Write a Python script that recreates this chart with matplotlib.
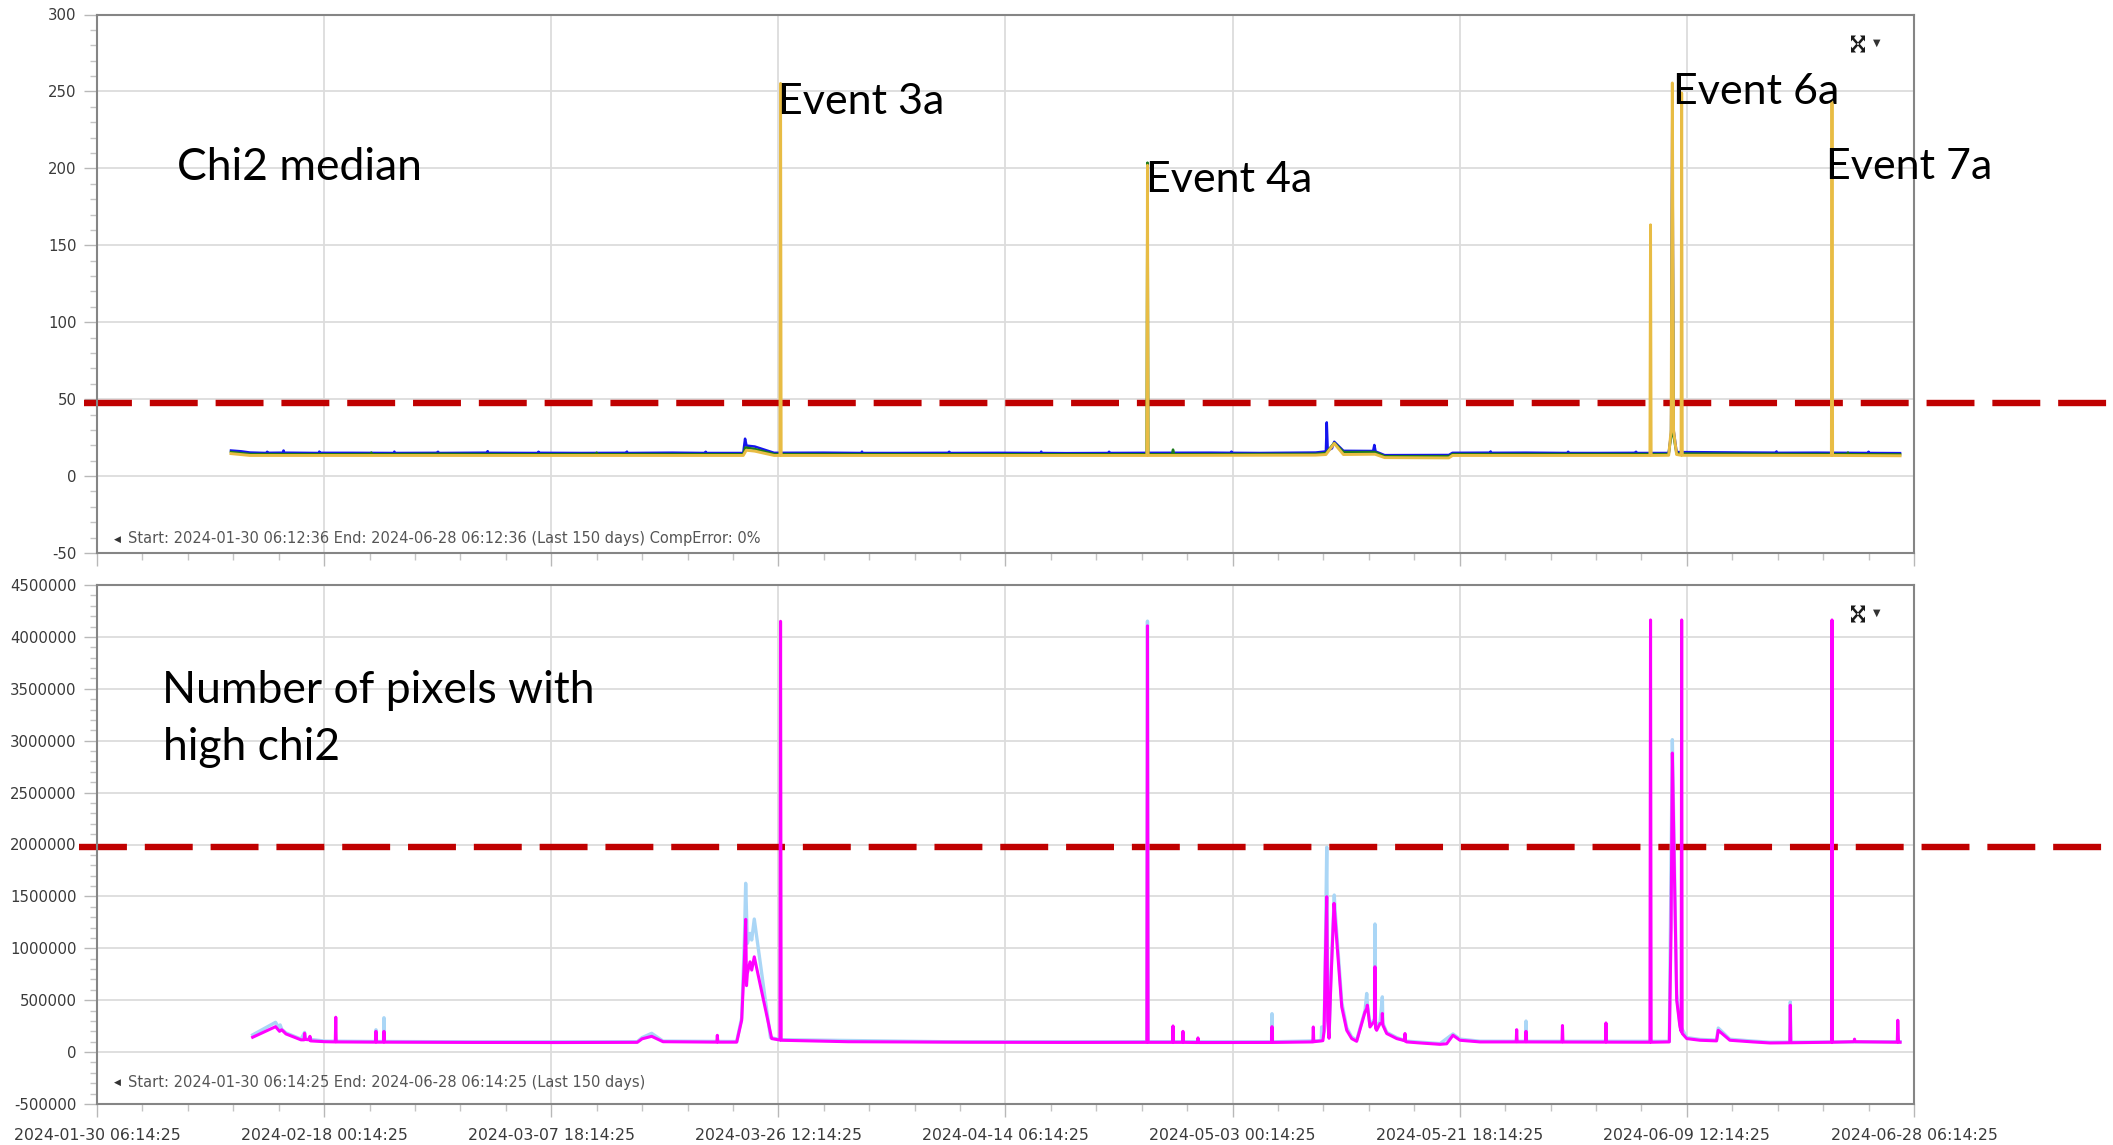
#!/usr/bin/env python3
"""
Chi2 monitoring overview: median chi2 and number of high-chi2 pixels
over the last 150 days, with the alarm thresholds and labelled events.
"""

import numpy as np
import pandas as pd
import matplotlib
matplotlib.use("Agg")
import matplotlib.pyplot as plt
import matplotlib.dates as mdates
from matplotlib.ticker import FixedLocator, StrMethodFormatter

W, H = 2113, 1145
START = pd.Timestamp("2024-01-30 06:14:25")
SPAN_DAYS = 150

x_tick_labels = [
    "2024-01-30 06:14:25", "2024-02-18 00:14:25", "2024-03-07 18:14:25",
    "2024-03-26 12:14:25", "2024-04-14 06:14:25", "2024-05-03 00:14:25",
    "2024-05-21 18:14:25", "2024-06-09 12:14:25", "2024-06-28 06:14:25",
]

# (days since START, value)
chi2_blue = [
    (11.06, 16.6), (11.9, 16.1), (12.63, 15.3), (14.0, 15.0), (14.05, 15.8),
    (14.1, 15.1), (15.35, 15.2), (15.4, 16.6), (15.45, 15.2), (18.3, 15.0),
    (18.35, 15.9), (18.4, 15.1), (21.0, 15.1), (24.5, 15.0), (24.55, 15.9),
    (24.6, 15.0), (28.1, 15.1), (28.15, 15.8), (28.2, 15.0), (32.2, 15.2),
    (32.25, 16.2), (32.3, 15.1), (36.4, 15.0), (36.45, 15.8), (36.5, 15.1),
    (40.0, 15.0), (43.7, 15.1), (43.75, 15.9), (43.8, 15.0), (47.5, 15.2),
    (50.2, 15.0), (50.25, 15.8), (50.3, 15.0), (53.35, 15.0), (53.5, 24.3),
    (53.62, 19.8), (54.3, 19.2), (55.9, 15.1), (60.0, 15.2), (63.1, 15.0),
    (63.15, 15.9), (63.2, 15.0), (66.0, 15.0), (70.3, 15.1), (70.35, 15.8),
    (70.4, 15.0), (74.5, 15.1), (77.9, 15.0), (77.95, 15.9), (78.0, 15.0),
    (80.0, 14.9), (83.5, 15.0), (83.55, 15.8), (83.6, 15.0), (86.7, 15.1),
    (92.0, 15.2), (93.6, 15.1), (93.65, 15.9), (93.7, 15.1), (96.0, 15.0),
    (100.6, 15.3), (101.45, 16.0), (101.52, 34.9), (101.6, 16.6), (101.95, 18.0),
    (102.14, 22.3), (102.9, 16.4), (105.35, 16.3), (105.45, 20.2), (105.55, 16.0),
    (106.3, 13.6), (111.6, 13.7), (111.9, 15.1), (115.0, 15.2), (115.05, 16.0),
    (115.1, 15.1), (118.0, 15.2), (121.4, 15.0), (121.45, 15.8), (121.5, 15.0),
    (124.0, 15.0), (127.0, 15.1), (127.05, 15.8), (127.1, 15.0), (129.75, 15.0),
    (129.95, 28.0), (130.05, 250.0), (130.15, 30.0), (130.4, 15.6), (136.0, 15.3),
    (138.6, 15.2), (138.65, 16.0), (138.7, 15.1), (142.0, 15.2), (146.2, 15.0),
    (146.25, 15.8), (146.3, 15.0), (148.85, 14.9),
]
chi2_green = [
    (11.06, 15.6), (12.63, 14.3), (20.0, 14.2), (22.6, 14.3), (22.65, 15.3),
    (22.7, 14.2), (28.0, 14.4), (36.0, 14.2), (41.2, 14.3), (41.25, 15.2),
    (41.3, 14.2), (45.0, 14.3), (53.35, 14.2), (53.52, 18.6), (54.3, 17.6),
    (55.9, 14.3), (70.0, 14.2), (86.65, 14.2), (86.72, 203.7), (86.79, 14.2),
    (88.75, 14.2), (88.83, 17.2), (88.91, 14.2), (100.6, 14.4), (101.45, 15.0),
    (102.14, 21.6), (102.9, 15.6), (105.5, 15.6), (106.3, 12.9), (111.6, 12.9),
    (111.9, 14.3), (120.0, 14.3), (129.75, 14.3), (129.95, 26.0), (130.05, 210.0),
    (130.15, 26.0), (130.4, 14.6), (140.0, 14.3), (144.5, 14.3), (144.55, 15.3),
    (144.6, 14.2), (148.85, 14.1),
]
chi2_gold = [
    (11.06, 14.6), (12.63, 13.4), (30.0, 13.4), (53.35, 13.4), (53.6, 16.8),
    (54.3, 16.2), (55.9, 13.4), (56.38, 13.4), (56.43, 255.2), (56.48, 13.4),
    (86.67, 13.4), (86.72, 202.0), (86.77, 13.4), (100.6, 13.6), (101.45, 14.0),
    (102.14, 21.2), (102.9, 14.0), (105.5, 14.2), (106.3, 12.0), (111.6, 11.8),
    (111.9, 13.4), (128.2, 13.4), (128.25, 163.3), (128.3, 13.4), (129.75, 13.5),
    (129.95, 30.0), (130.05, 255.5), (130.15, 30.0), (130.4, 14.0), (130.77, 13.5),
    (130.82, 249.0), (130.87, 13.5), (143.18, 13.4), (143.23, 243.0), (143.28, 13.4),
    (148.85, 13.2),
]

pix_lightblue = [
    (12.85, 166000), (14.74, 287000), (15.07, 225000), (15.12, 262000), (15.25, 220000),
    (15.6, 185000), (16.84, 126000), (17.14, 190000), (17.2, 128000), (18.82, 106000),
    (22.99, 102000), (23.03, 215000), (23.07, 102000), (23.65, 102000), (23.69, 331000),
    (23.73, 102000), (31.0, 99000), (44.6, 100000), (45.0, 140000), (45.79, 181000),
    (46.73, 106000), (52.81, 102000), (53.22, 330000), (53.45, 1100000), (53.55, 1626000),
    (53.69, 1047000), (53.91, 1144000), (54.05, 1080000), (54.26, 1282000), (55.6, 140000),
    (56.43, 120000), (70.0, 100000), (86.67, 100000), (86.72, 4152000), (86.77, 100000),
    (96.96, 99000), (97.0, 370000), (97.04, 99000), (101.06, 110000), (101.1, 242000),
    (101.14, 115000), (101.3, 220000), (101.4, 900000), (101.52, 1974000), (101.6, 400000),
    (101.71, 150000), (101.85, 700000), (102.14, 1513000), (102.2, 1380000), (102.47, 950000),
    (102.76, 480000), (103.17, 235000), (103.58, 145000), (103.99, 115000), (104.41, 290000),
    (104.68, 400000), (104.82, 565000), (104.87, 470000), (105.09, 260000), (105.46, 320000),
    (105.5, 1234000), (105.55, 250000), (105.92, 290000), (106.11, 532000), (106.15, 280000),
    (106.47, 190000), (107.3, 140000), (108.12, 105000), (110.87, 82000), (111.94, 175000),
    (112.52, 125000), (114.17, 105000), (117.93, 104000), (117.97, 299000), (118.01, 104000),
    (129.8, 104000), (130.05, 3010000), (130.21, 1900000), (130.41, 560000), (130.68, 260000),
    (131.24, 140000), (132.33, 122000), (133.7, 116000), (133.84, 232000), (134.8, 124000),
    (136.71, 106000), (138.11, 95000), (139.75, 96000), (139.79, 484000), (139.83, 96000),
    (148.85, 100000),
]
pix_magenta = [
    (12.85, 143000), (14.74, 245000), (15.07, 200000), (15.25, 215000), (15.6, 175000),
    (16.84, 118000), (17.1, 118000), (17.14, 181000), (17.2, 122000), (17.54, 118000),
    (17.58, 152000), (17.63, 108000), (18.82, 100000), (19.67, 98000), (19.71, 336000),
    (19.75, 98000), (22.99, 96000), (23.03, 200000), (23.07, 96000), (23.65, 96000),
    (23.69, 200000), (23.73, 96000), (31.0, 93000), (38.0, 92000), (44.6, 94000),
    (45.0, 128000), (45.79, 152000), (46.73, 100000), (51.17, 96000), (51.21, 162000),
    (51.25, 96000), (52.81, 96000), (53.22, 307000), (53.45, 900000), (53.55, 1279000),
    (53.62, 640000), (53.69, 758000), (53.91, 870000), (54.05, 790000), (54.26, 918000),
    (55.7, 130000), (56.38, 116000), (56.43, 4150000), (56.48, 114000), (62.0, 100000),
    (72.0, 95000), (80.0, 93000), (86.67, 94000), (86.72, 4106000), (86.77, 94000),
    (88.79, 94000), (88.83, 252000), (88.87, 94000), (89.61, 94000), (89.65, 200000),
    (89.69, 94000), (90.85, 92000), (90.89, 137000), (90.93, 92000), (96.96, 93000),
    (97.0, 245000), (97.04, 93000), (99.5, 97000), (100.37, 98000), (100.41, 242000),
    (100.45, 100000), (101.2, 110000), (101.3, 200000), (101.4, 860000), (101.52, 1497000),
    (101.6, 300000), (101.71, 133000), (101.85, 628000), (102.12, 1433000), (102.2, 1300000),
    (102.47, 886000), (102.76, 435000), (103.17, 210000), (103.58, 130000), (103.99, 104000),
    (104.41, 275000), (104.68, 387000), (104.82, 420000), (104.87, 452000), (105.09, 242000),
    (105.46, 300000), (105.5, 822000), (105.55, 230000), (105.64, 210000), (105.92, 275000),
    (106.08, 280000), (106.11, 372000), (106.15, 260000), (106.47, 179000), (107.3, 130000),
    (107.95, 110000), (107.98, 179000), (108.02, 105000), (108.12, 98000), (109.22, 88000),
    (110.87, 75000), (111.42, 80000), (111.94, 162000), (112.52, 114000), (114.17, 98000),
    (117.16, 98000), (117.2, 216000), (117.24, 98000), (117.93, 98000), (117.97, 200000),
    (118.01, 98000), (120.94, 97000), (120.98, 256000), (121.02, 97000), (124.53, 96000),
    (124.57, 281000), (124.61, 96000), (128.2, 95000), (128.25, 4163000), (128.3, 95000),
    (129.8, 98000), (129.95, 1200000), (130.05, 2881000), (130.21, 1790000), (130.41, 500000),
    (130.68, 242000), (130.78, 200000), (130.82, 4163000), (130.86, 180000), (131.24, 130000),
    (132.33, 114000), (133.7, 108000), (133.84, 210000), (134.8, 114000), (136.71, 98000),
    (138.11, 88000), (139.75, 90000), (139.79, 452000), (139.83, 90000), (143.19, 95000),
    (143.23, 4163000), (143.27, 95000), (145.05, 100000), (145.09, 125000), (145.13, 100000),
    (148.62, 95000), (148.66, 307000), (148.72, 95000), (148.85, 95000),
]

threshold_chi2 = 47.3
threshold_pixels = 1980000

footer_top = "Start: 2024-01-30 06:12:36 End: 2024-06-28 06:12:36 (Last 150 days) CompError: 0%"
footer_bottom = "Start: 2024-01-30 06:14:25 End: 2024-06-28 06:14:25 (Last 150 days)"

ANNOT_FONT = ["Lato", "DejaVu Sans"]


def to_dates(series):
    days = np.array([d for d, _ in series])
    vals = np.array([v for _, v in series])
    return (START + pd.to_timedelta(days, unit="D")).to_numpy(), vals


def fx(px):
    return px / W


def fy(py):
    return 1 - py / H


def style_axes(ax, yticks, yminor_step, show_xlabels):
    """Grid, ticks and frame in the style of the monitoring web page"""
    x0 = mdates.date2num(START)
    x1 = mdates.date2num(START + pd.Timedelta(days=SPAN_DAYS))
    ax.set_xlim(x0, x1)
    ax.set_ylim(yticks[0], yticks[-1])

    major = [mdates.date2num(pd.Timestamp(s)) for s in x_tick_labels]
    minor = [x0 + k * 3.75 for k in range(41)]
    ax.xaxis.set_major_locator(FixedLocator(major))
    ax.xaxis.set_minor_locator(FixedLocator(minor))
    if show_xlabels:
        ax.set_xticklabels(x_tick_labels)
    else:
        ax.set_xticklabels([])

    ax.yaxis.set_major_locator(FixedLocator(yticks))
    ax.yaxis.set_minor_locator(FixedLocator(np.arange(yticks[0], yticks[-1] + 1, yminor_step)))
    ax.yaxis.set_major_formatter(StrMethodFormatter("{x:.0f}"))

    ax.grid(True, which="major", color="#dcdcdc", linewidth=1.3, zorder=0)
    ax.tick_params(which="major", length=9.4, width=1.0, color="#b8b8b8")
    ax.tick_params(which="minor", length=4.7, width=1.0, color="#c4c4c4")
    ax.tick_params(axis="y", labelsize=10.7, labelcolor="#3a3a3a", pad=5.4)
    ax.tick_params(axis="x", labelsize=11.3, labelcolor="#3a3a3a", pad=8.0)
    for sp in ax.spines.values():
        sp.set_color("#858585")
        sp.set_linewidth(1.5)


def draw_expand_icon(fig, cx, cy):
    """Small 'expand' icon with a dropdown arrow (pixel coords, origin top-left)"""
    for dx, dy in [(-1, -1), (1, -1), (-1, 1), (1, 1)]:
        fig.add_artist(plt.Line2D(
            [fx(cx + dx * 1.5), fx(cx + dx * 5.0)], [fy(cy + dy * 1.5), fy(cy + dy * 5.5)],
            transform=fig.transFigure, color="#1a1a1a", lw=1.8))
        fig.add_artist(plt.Polygon(
            [(fx(cx + dx * 7.0), fy(cy + dy * 8.5)),
             (fx(cx + dx * 2.0), fy(cy + dy * 8.5)),
             (fx(cx + dx * 7.0), fy(cy + dy * 2.5))],
            closed=True, transform=fig.transFigure, color="#1a1a1a", lw=0))
    fig.text(fx(cx + 19), fy(cy - 1), "\u25bc", fontsize=7, color="#333333",
             ha="center", va="center")


def main():
    plt.rcParams["axes.unicode_minus"] = False
    plt.rcParams["font.family"] = ["DejaVu Sans"]

    fig = plt.figure(figsize=(W / 100, H / 100), dpi=100)
    fig.patch.set_facecolor("white")

    ax_top = fig.add_axes([fx(97), fy(553), fx(1914) - fx(97), fy(14.5) - fy(553)])
    ax_bot = fig.add_axes([fx(97), fy(1104), fx(1914) - fx(97), fy(585) - fy(1104)])

    # Chi2 median panel
    for series, color, lw in [(chi2_blue, "#1414ee", 1.8),
                              (chi2_green, "#1d7a1d", 1.8),
                              (chi2_gold, "#e8bc44", 2.1)]:
        t, v = to_dates(series)
        ax_top.plot(t, v, color=color, lw=lw, zorder=3)
    style_axes(ax_top, list(range(-50, 301, 50)), 10, False)

    # Number of pixels with high chi2 panel
    t, v = to_dates(pix_lightblue)
    ax_bot.plot(t, v, color="#aad6f6", lw=2.4, zorder=3)
    t, v = to_dates(pix_magenta)
    ax_bot.plot(t, v, color="#ff00ff", lw=2.2, zorder=4)
    style_axes(ax_bot, list(range(-500000, 4500001, 500000)), 100000, True)

    # thresholds drawn across the whole slide width
    ax_top.axhline(threshold_chi2, xmin=-0.0072, xmax=1.11, clip_on=False,
                   color="#c00000", lw=4.6, linestyle=(0, (7.5, 2.8)), zorder=2)
    ax_bot.axhline(threshold_pixels, xmin=-0.0099, xmax=1.11, clip_on=False,
                   color="#c00000", lw=4.6, linestyle=(0, (7.5, 2.8)), zorder=2)

    # footers
    for ypx, txt in [(539, footer_top), (1082, footer_bottom)]:
        fig.text(fx(117), fy(ypx), "\u25c0", fontsize=6.5, color="#333333",
                 ha="center", va="center")
        fig.text(fx(128), fy(ypx), txt, fontsize=10.5, color="#555555",
                 ha="left", va="center")

    draw_expand_icon(fig, 1858, 44)
    draw_expand_icon(fig, 1858, 614)

    # slide annotations
    annotations = [
        ("Event 3a", 778, 114),
        ("Event 4a", 1146, 192),
        ("Event 6a", 1673, 104),
        ("Event 7a", 1826, 179),
    ]
    for txt, xp, yp in annotations:
        fig.text(fx(xp), fy(yp), txt, fontsize=31, family=ANNOT_FONT,
                 color="black", ha="left", va="baseline")
    fig.text(fx(177), fy(180), "Chi2 median", fontsize=32, family=ANNOT_FONT,
             color="black", ha="left", va="baseline")
    fig.text(fx(162), fy(703), "Number of pixels with", fontsize=32,
             family=ANNOT_FONT, color="black", ha="left", va="baseline")
    fig.text(fx(163), fy(760), "high chi2", fontsize=32,
             family=ANNOT_FONT, color="black", ha="left", va="baseline")

    fig.savefig("out.png", dpi=100, facecolor="white")


if __name__ == "__main__":
    main()
